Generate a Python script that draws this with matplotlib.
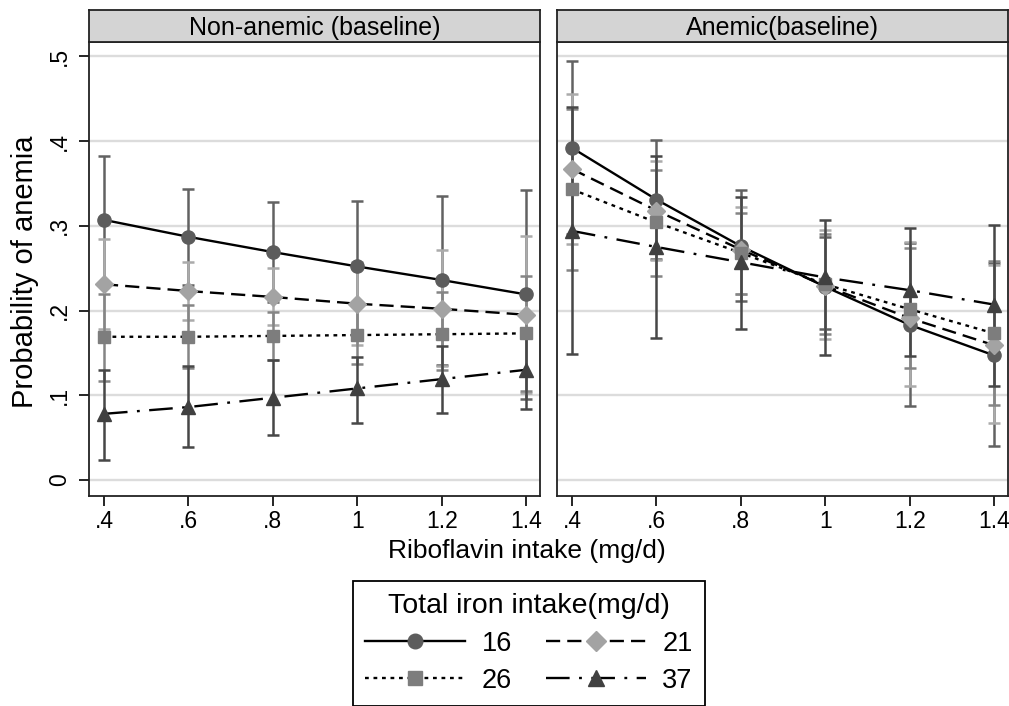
import numpy as np
import matplotlib
matplotlib.use("Agg")
import matplotlib.pyplot as plt
from matplotlib.lines import Line2D

plt.rcParams['font.family'] = ['Liberation Sans', 'DejaVu Sans']

# riboflavin intake (mg/d)
x = [0.4, 0.6, 0.8, 1.0, 1.2, 1.4]
x_ticks = [0.4, 0.6, 0.8, 1.0, 1.2, 1.4]
x_ticklabels = [".4", ".6", ".8", "1", "1.2", "1.4"]
y_ticks = [0, 0.1, 0.2, 0.3, 0.4, 0.5]
y_ticklabels = ["0", ".1", ".2", ".3", ".4", ".5"]

iron_levels = ["16", "21", "26", "37"]
panel_titles = ["Non-anemic (baseline)", "Anemic(baseline)"]

# non-anemic at baseline: predicted probability and 95% CI
p16_non = [0.307, 0.287, 0.269, 0.252, 0.236, 0.219]
lo16_non = [0.230, 0.230, 0.210, 0.175, 0.136, 0.096]
hi16_non = [0.382, 0.344, 0.328, 0.329, 0.335, 0.342]
p21_non = [0.231, 0.223, 0.216, 0.208, 0.202, 0.195]
lo21_non = [0.178, 0.189, 0.183, 0.159, 0.134, 0.103]
hi21_non = [0.284, 0.257, 0.250, 0.257, 0.272, 0.288]
p26_non = [0.169, 0.169, 0.170, 0.171, 0.172, 0.173]
lo26_non = [0.117, 0.132, 0.141, 0.137, 0.130, 0.105]
hi26_non = [0.219, 0.206, 0.198, 0.205, 0.222, 0.241]
p37_non = [0.078, 0.086, 0.097, 0.108, 0.119, 0.130]
lo37_non = [0.024, 0.039, 0.053, 0.067, 0.079, 0.084]
hi37_non = [0.130, 0.134, 0.141, 0.145, 0.158, 0.177]

# anemic at baseline
p16_an = [0.392, 0.331, 0.276, 0.228, 0.183, 0.147]
lo16_an = [0.290, 0.261, 0.211, 0.178, 0.087, 0.040]
hi16_an = [0.495, 0.401, 0.342, 0.287, 0.280, 0.256]
p21_an = [0.367, 0.318, 0.272, 0.229, 0.191, 0.159]
lo21_an = [0.278, 0.260, 0.220, 0.166, 0.111, 0.067]
hi21_an = [0.456, 0.376, 0.322, 0.295, 0.281, 0.254]
p26_an = [0.343, 0.304, 0.268, 0.231, 0.2015, 0.173]
lo26_an = [0.248, 0.241, 0.219, 0.172, 0.132, 0.088]
hi26_an = [0.438, 0.366, 0.315, 0.290, 0.274, 0.258]
p37_an = [0.294, 0.275, 0.257, 0.239, 0.224, 0.207]
lo37_an = [0.149, 0.168, 0.178, 0.147, 0.146, 0.111]
hi37_an = [0.440, 0.382, 0.334, 0.307, 0.297, 0.301]

panels = [
    [(p16_non, lo16_non, hi16_non), (p21_non, lo21_non, hi21_non),
     (p26_non, lo26_non, hi26_non), (p37_non, lo37_non, hi37_non)],
    [(p16_an, lo16_an, hi16_an), (p21_an, lo21_an, hi21_an),
     (p26_an, lo26_an, hi26_an), (p37_an, lo37_an, hi37_an)],
]

markers = ['o', 'D', 's', '^']
msizes = [9.5, 9, 8.5, 10]
mcolors = ['#5c5c5c', '#a3a3a3', '#7d7d7d', '#404040']
ecolors = ['#626262', '#ababab', '#858585', '#474747']
lstyles = ['-', (0, (6, 3)), (0, (1.6, 2.0)), (0, (10, 4, 1.2, 4))]

W, H = 1009, 706
fig = plt.figure(figsize=(W / 100, H / 100), dpi=100)


def box(x0, y0, x1, y1):
    return [x0 / W, 1 - y1 / H, (x1 - x0) / W, (y1 - y0) / H]


panel_x = [(89, 540), (557, 1008)]
for k, (x0, x1) in enumerate(panel_x):
    ax = fig.add_axes(box(x0, 42, x1, 496))
    ax.set_xlim(0.3645, 1.433)
    ax.set_ylim(-0.019, 0.517)
    for yt in y_ticks:
        ax.axhline(yt, color='#dcdcdc', lw=1.7, zorder=1)
    for i, (p, lo, hi) in enumerate(panels[k]):
        p = np.array(p)
        err = [p - np.array(lo), np.array(hi) - p]
        ax.errorbar(x, p, yerr=err, fmt='none', ecolor=ecolors[i],
                    elinewidth=1.8, capsize=4, capthick=1.8, zorder=2 + i * 0.01)
    for i, (p, lo, hi) in enumerate(panels[k]):
        ax.plot(x, p, color='black', ls=lstyles[i], lw=1.7, zorder=3)
    for i, (p, lo, hi) in enumerate(panels[k]):
        ax.plot(x, p, ls='none', marker=markers[i], ms=msizes[i],
                mfc=mcolors[i], mec=mcolors[i], zorder=4)
    ax.set_xticks(x_ticks)
    ax.set_xticklabels(x_ticklabels, fontsize=16.5)
    ax.tick_params(axis='x', direction='out', length=7, width=1.2, pad=3)
    ax.set_yticks(y_ticks)
    if k == 0:
        ax.set_yticklabels(y_ticklabels, fontsize=16.5, rotation=90, va='center')
        ax.tick_params(axis='y', direction='out', length=7, width=1.2, pad=6)
    else:
        ax.tick_params(axis='y', left=False, labelleft=False)
    for s in ax.spines.values():
        s.set_color('#222222')
        s.set_linewidth(1.3)

    sax = fig.add_axes(box(x0, 10, x1, 42))
    sax.set_facecolor('#d4d4d4')
    sax.set_xticks([])
    sax.set_yticks([])
    for s in sax.spines.values():
        s.set_color('#222222')
        s.set_linewidth(1.3)
    sax.text(0.5, 0.45, panel_titles[k], ha='center', va='center', fontsize=18,
             transform=sax.transAxes)

fig.text(25 / W, 1 - 272 / H, "Probability of anemia", rotation=90,
         ha='center', va='center', fontsize=21)
fig.text(527 / W, 1 - 551 / H, "Riboflavin intake (mg/d)",
         ha='center', va='center', fontsize=19)

handles = []
for i in range(4):
    handles.append(Line2D([], [], color='black', ls=lstyles[i], lw=1.7,
                          marker=markers[i], ms=msizes[i] + 1,
                          mfc=mcolors[i], mec=mcolors[i]))
# legend fills by column: reorder so rows read 16, 21 / 26, 37
order = [0, 2, 1, 3]
leg = fig.legend([handles[i] for i in order], [iron_levels[i] for i in order],
                 loc='upper center', bbox_to_anchor=(529 / W, 1 - 581 / H),
                 borderaxespad=0, ncol=2,
                 title="Total iron intake(mg/d)", title_fontsize=20.5,
                 fontsize=19.5, handlelength=3.7, handletextpad=0.6,
                 columnspacing=1.25, labelspacing=0.42, borderpad=0.45,
                 numpoints=1, fancybox=False, framealpha=1,
                 edgecolor='black')
leg.get_frame().set_linewidth(1.3)

fig.savefig("out.png", dpi=100)
